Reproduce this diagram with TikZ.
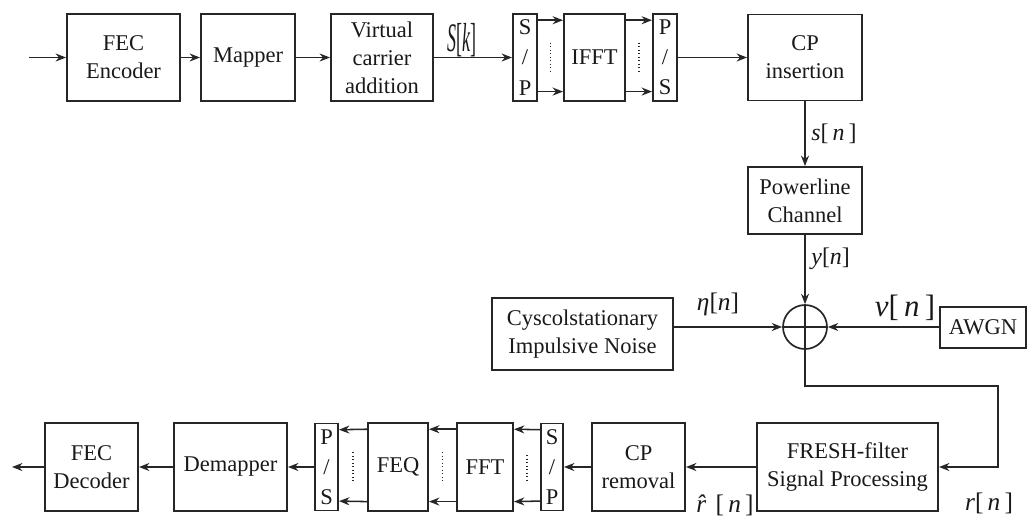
\documentclass[tikz,border=0pt]{standalone}
\usepackage{fontspec}
\setmainfont{Liberation Serif}
\usetikzlibrary{calc,arrows.meta}

\begin{document}
\begin{tikzpicture}[>={Stealth[length=2.6mm,width=2mm]}, x=0.025cm, y=-0.025cm,
  line width=1.1pt, draw=black!85,
  blk/.style 2 args={draw=black!85, line width=1.4pt, minimum width=#1*0.025cm,
    minimum height=#2*0.025cm, inner sep=0pt, align=center, text=black!90,
    font=\fontsize{16}{20}\selectfont},
  spbox/.style={blk={#1}{87}, font=\fontsize{16}{21.5}\selectfont},
  sig/.style={text=black!90, font=\fontsize{17}{20}\selectfont, inner sep=1pt},
  dots/.style={line width=1.4pt, dash pattern=on 0.9pt off 1.6pt}]
  \useasboundingbox (0,0) rectangle (1029,521);

  % transmitter
  \coordinate (in) at (29,57.5);
  \node[blk={113}{87}] (enc) at (123.5,57.5) {FEC\\Encoder};
  \node[blk={94}{87}] (map) at (248,57.5) {Mapper};
  \node[blk={102}{87}] (vca) at (382,57.5) {Virtual\\carrier\\addition};
  \node[spbox=24] (sp1) at (525,57.5) {S\\/\\P};
  \node[blk={61}{87}] (ifft) at (594.5,57.5) {IFFT};
  \node[spbox=24] (ps1) at (665,57.5) {P\\/\\S};
  \node[blk={114}{86}] (cpi) at (805,57.5) {CP\\insertion};

  \draw[->] (in) -- (enc);
  \draw[->] (enc) -- (map);
  \draw[->] (map) -- (vca);
  \draw[->] (vca) -- (sp1);
  \node[sig] (sk) at (462,40) {\scalebox{0.8}[1.8]{\fontsize{16}{20}\selectfont\textit{S}[\textit{k}]}};
  \draw[->] ([yshift=-0.18cm]sp1.north east) -- ([yshift=-0.18cm]ifft.north west);
  \draw[->] ([yshift=0.26cm]sp1.south east) -- ([yshift=0.26cm]ifft.south west);
  \draw[->] ([yshift=-0.18cm]ifft.north east) -- ([yshift=-0.18cm]ps1.north west);
  \draw[->] ([yshift=0.26cm]ifft.south east) -- ([yshift=0.26cm]ps1.south west);
  \draw[dots] ($(sp1.east)!0.5!(ifft.west)$) ++(0,-15) -- ++(0,30);
  \draw[dots] ($(ifft.east)!0.5!(ps1.west)$) ++(0,-15) -- ++(0,30);
  \draw[->] (ps1) -- (cpi);

  % channel and noise
  \node[blk={114}{67}] (chan) at (805,200.5) {Powerline\\Channel};
  \node[draw=black!85, line width=1.2pt, circle, minimum size=1.1cm, inner sep=0pt] (add) at (805,327) {};
  \draw (add.north) -- (add.south);
  \draw (add.west) -- (add.east);
  \node[blk={181}{72}] (cin) at (582.5,334) {Cyscolstationary\\Impulsive Noise};
  \node[blk={86}{41}] (awgn) at (983,327.5) {AWGN};

  \draw[->] (cpi) -- (chan) node[sig, midway, right=3pt] {\textit{s}[\,\textit{n}\,]};
  \draw[->] (chan) -- (add) node[sig, pos=0.35, right=3pt] {\textit{y}[\textit{n}]};
  \draw[->] (cin.east |- add.west) -- (add.west);
  \node[sig, font=\fontsize{18}{20}\selectfont] (eta) at (718,304) {\textit{η}[\textit{n}]};
  \draw[->] (awgn.west |- add.east) -- (add.east);
  \node[sig, font=\fontsize{22}{24}\selectfont] (nu) at (905,308) {\textit{ν}[\,\textit{n}\,]};

  % receiver
  \coordinate (bend) at (998,386);
  \coordinate (out) at (12,467);
  \node[blk={181}{88}] (fresh) at (847.5,467) {FRESH-filter\\Signal Processing};
  \node[blk={93}{88}] (cpr) at (638.5,467) {CP\\removal};
  \node[spbox=22] (sp2) at (552,467) {S\\/\\P};
  \node[blk={56}{88}] (fft) at (485,467) {FFT};
  \node[blk={60}{88}] (feq) at (398,467) {FEQ};
  \node[spbox=23] (ps2) at (326.5,467) {P\\/\\S};
  \node[blk={113}{88}] (dem) at (230.5,467) {Demapper};
  \node[blk={93}{88}] (dec) at (91.5,467) {FEC\\Decoder};

  \draw[->] (add.south) |- (bend) |- (fresh.east);
  \node[sig, font=\fontsize{18}{20}\selectfont] (rn) at (989,503) {\textit{r}[\,\textit{n}\,]};
  \draw[->] (fresh) -- (cpr);
  \node[sig, font=\fontsize{18}{20}\selectfont] (rhat) at (725,505) {\textit{r̂}[\,\textit{n}\,]};
  \draw[->] (cpr) -- (sp2);
  \draw[->] ([yshift=-0.18cm]sp2.north west) -- ([yshift=-0.18cm]fft.north east);
  \draw[->] ([yshift=0.26cm]sp2.south west) -- ([yshift=0.26cm]fft.south east);
  \draw[->] ([yshift=-0.18cm]fft.north west) -- ([yshift=-0.18cm]feq.north east);
  \draw[->] ([yshift=0.26cm]fft.south west) -- ([yshift=0.26cm]feq.south east);
  \draw[->] ([yshift=-0.18cm]feq.north west) -- ([yshift=-0.18cm]ps2.north east);
  \draw[->] ([yshift=0.26cm]feq.south west) -- ([yshift=0.26cm]ps2.south east);
  \draw[dots] ($(fft.east)!0.5!(sp2.west)$) ++(0,-12) -- ++(0,26);
  \draw[dots] ($(feq.east)!0.5!(fft.west)$) ++(0,-15) -- ++(0,30);
  \draw[dots] ($(ps2.east)!0.5!(feq.west)$) ++(0,-15) -- ++(0,30);
  \draw[->] (ps2) -- (dem);
  \draw[->] (dem) -- (dec);
  \draw[->] (dec) -- (out);
\end{tikzpicture}
\end{document}
